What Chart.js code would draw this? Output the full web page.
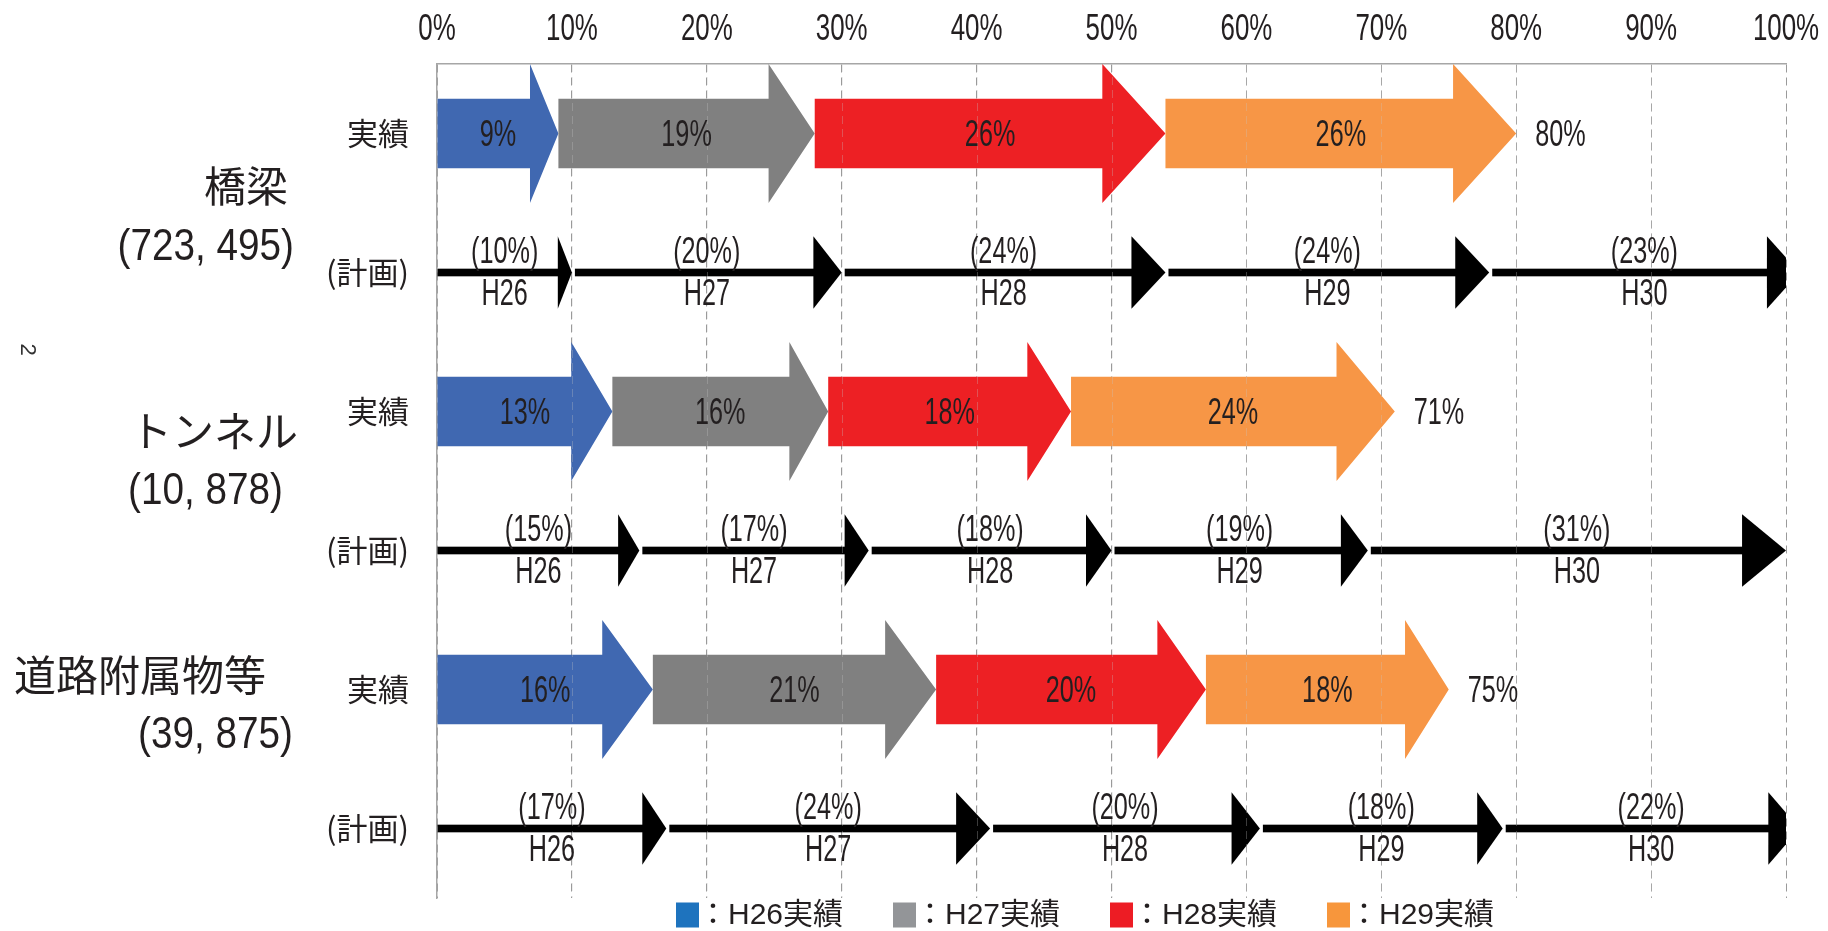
<!DOCTYPE html>
<html><head><meta charset="utf-8">
<script src="https://cdn.jsdelivr.net/npm/chart.js@4.4.1/dist/chart.umd.min.js"></script>
<style>html,body{margin:0;padding:0;background:#fff;}#wrap{width:1828px;height:931px;}</style>
</head><body><div id="wrap"><canvas id="c" width="1828" height="931"></canvas></div>
<script>
// ---------------- data ----------------
const rowLabels = ['実績', '(計画)', '実績', '(計画)', '実績', '(計画)'];
const groupNames = ['橋梁', 'トンネル', '道路附属物等'];
const groupCounts = ['(723, 495)', '(10, 878)', '(39, 875)'];
const actualSeries = ['H26実績', 'H27実績', 'H28実績', 'H29実績'];
const actualBridge = [9, 19, 26, 26];
const actualTunnel = [13, 16, 18, 24];
const actualRoad = [16, 21, 20, 18];
const actualTotals = [80, 71, 75];
const planYears = ['H26', 'H27', 'H28', 'H29', 'H30'];
const planBridge = [10, 20, 24, 24, 23];
const planTunnel = [15, 17, 18, 19, 31];
const planRoad = [17, 24, 20, 18, 22];
const xTickStep = 10;
const strayMark = '2';

// ---------------- styles ----------------
const TEXT = '#231F20';
const ACTUAL_COLORS = ['#4068B1', '#808080', '#ED2024', '#F79646'];
const LEGEND_COLORS = ['#1E73BE', '#939598', '#ED1C24', '#F7963C'];
const ACT_HEAD = [0.235, 0.18, 0.18, 0.18];
const PLAN_HEAD = 0.105;
const LATIN = '"Liberation Sans", Arial, sans-serif';
const CJK = '"Noto Sans CJK JP", sans-serif';
const SX = 0.7;
const GROUP_STYLE = [
  { nameDy: 53, nameRight: 288, subDy: 110, subRight: 294 },
  { nameDy: 20, nameRight: 298, subDy: 76, subRight: 283 },
  { nameDy: -14, nameRight: 266, subDy: 42, subRight: 293 }
];

// ---------------- build ----------------
function cumRanges(vals) { let s = 0; return vals.map(v => { const r = [s, s + v]; s += v; return r; }); }
const actualRanges = [actualBridge, actualTunnel, actualRoad].map(cumRanges);
const planRanges = [planBridge, planTunnel, planRoad].map(cumRanges);
const actualVals = [actualBridge, actualTunnel, actualRoad];
const planVals = [planBridge, planTunnel, planRoad];

const datasets = [];
actualSeries.forEach((name, i) => {
  datasets.push({
    label: name, kind: 'actual', idx: i,
    data: rowLabels.map((_, r) => r % 2 === 0 ? actualRanges[r / 2][i] : null),
    backgroundColor: ACTUAL_COLORS[i], barPercentage: 0.5, categoryPercentage: 1, grouped: false
  });
});
planYears.forEach((name, j) => {
  datasets.push({
    label: name, kind: 'plan', idx: j,
    data: rowLabels.map((_, r) => r % 2 === 1 ? planRanges[(r - 1) / 2][j] : null),
    backgroundColor: '#000', barPercentage: 0.055, categoryPercentage: 1, grouped: false
  });
});

// ---------------- text helpers ----------------
function drawMixed(ctx, text, x, y, size, align, sx) {
  const runs = [];
  for (const ch of text) {
    const cjk = ch.charCodeAt(0) > 0x2000;
    if (runs.length && runs[runs.length - 1].cjk === cjk) runs[runs.length - 1].t += ch;
    else runs.push({ t: ch, cjk });
  }
  let total = 0;
  runs.forEach(r => {
    ctx.font = size + 'px ' + (r.cjk ? CJK : LATIN);
    r.w = ctx.measureText(r.t).width * (r.cjk ? 1 : sx);
    total += r.w;
  });
  let cx = align === 'center' ? x - total / 2 : align === 'right' ? x - total : x;
  const base = y + size * 0.36;
  runs.forEach(r => {
    ctx.save();
    ctx.font = size + 'px ' + (r.cjk ? CJK : LATIN);
    ctx.textAlign = 'left'; ctx.textBaseline = 'alphabetic';
    ctx.translate(cx, base);
    if (!r.cjk) ctx.scale(sx, 1);
    ctx.fillText(r.t, 0, 0);
    ctx.restore();
    cx += r.w;
  });
}

// ---------------- plugins ----------------
// draw x tick labels condensed (like the reference's narrow gothic digits)
const narrowTicks = {
  id: 'narrowTicks',
  beforeDraw(chart) {
    const sc = chart.scales.x;
    if (!sc || sc.__narrow) return;
    const orig = sc.drawLabels;
    sc.drawLabels = function (area) {
      const ctx = this.ctx, rot = ctx.rotate;
      ctx.rotate = function (a) { rot.call(this, a); this.scale(SX, 1); };
      try { orig.call(this, area); } finally { ctx.rotate = rot; }
    };
    sc.__narrow = true;
  }
};

const arrowPlugin = {
  id: 'arrows',
  beforeDatasetDraw() { return false; },
  afterDatasetsDraw(chart) {
    const ctx = chart.ctx, ca = chart.chartArea, ys = chart.scales.y, xs = chart.scales.x;
    const rowH = ys.getPixelForValue(1) - ys.getPixelForValue(0);
    const labels = [];
    ctx.save();
    ctx.beginPath(); ctx.rect(ca.left, ca.top, ca.right - ca.left, ca.bottom - ca.top); ctx.clip();
    chart.data.datasets.forEach((ds, di) => {
      const meta = chart.getDatasetMeta(di);
      meta.data.forEach((el, r) => {
        if (ds.data[r] == null) return;
        const x0 = Math.min(el.x, el.base), x1 = Math.max(el.x, el.base), y = el.y;
        const g = Math.floor(r / 2);
        if (ds.kind === 'actual') {
          const L = (x1 - x0) * ACT_HEAD[ds.idx], H = rowH / 2, bh = el.height / 2;
          ctx.fillStyle = ds.backgroundColor;
          ctx.beginPath();
          ctx.moveTo(x0, y - bh); ctx.lineTo(x1 - L, y - bh); ctx.lineTo(x1 - L, y - H);
          ctx.lineTo(x1, y); ctx.lineTo(x1 - L, y + H); ctx.lineTo(x1 - L, y + bh);
          ctx.lineTo(x0, y + bh); ctx.closePath(); ctx.fill();
          labels.push({ t: actualVals[g][ds.idx] + '%', x: (x0 + x1) / 2, y, a: 'center' });
          if (ds.idx === actualSeries.length - 1) labels.push({ t: actualTotals[g] + '%', x: x1 + 19, y, a: 'left' });
        } else {
          const L = (x1 - x0) * PLAN_HEAD, hh = rowH * 0.26, bh = el.height / 2;
          const xs0 = ds.idx > 0 ? x0 + 3 : x0;
          ctx.fillStyle = '#000';
          ctx.fillRect(xs0, y - bh, (x1 - L) - xs0 + 1, bh * 2);
          ctx.beginPath();
          ctx.moveTo(x1 - L, y - hh); ctx.lineTo(x1, y); ctx.lineTo(x1 - L, y + hh); ctx.closePath(); ctx.fill();
          labels.push({ t: '(' + planVals[g][ds.idx] + '%)', x: (x0 + x1) / 2, y: y - 22, a: 'center' });
          labels.push({ t: planYears[ds.idx], x: (x0 + x1) / 2, y: y + 20, a: 'center' });
        }
      });
    });
    // faint grid overlay
    ctx.strokeStyle = 'rgba(200,200,200,0.3)'; ctx.lineWidth = 1; ctx.setLineDash([8, 5]);
    xs.ticks.forEach(t => {
      if (t.value === 0) return;
      const px = Math.round(xs.getPixelForValue(t.value)) + 0.5;
      ctx.beginPath(); ctx.moveTo(px, ca.top); ctx.lineTo(px, ca.bottom); ctx.stroke();
    });
    ctx.restore();

    ctx.save();
    ctx.fillStyle = TEXT;
    labels.forEach(l => drawMixed(ctx, l.t, l.x, l.y, 36, l.a, SX));
    // group labels
    groupNames.forEach((n, g) => {
      const yRow = ys.getPixelForValue(g * 2);
      const st = GROUP_STYLE[g];
      drawMixed(ctx, n, st.nameRight, yRow + st.nameDy, 42, 'right', SX);
      drawMixed(ctx, groupCounts[g], st.subRight, yRow + st.subDy, 45, 'right', 0.86);
    });
    // stray mark
    ctx.save();
    ctx.translate(27, ys.getPixelForValue(2) - 62);
    ctx.rotate(Math.PI / 2);
    ctx.font = '22px ' + LATIN; ctx.textAlign = 'center'; ctx.textBaseline = 'middle';
    ctx.fillStyle = '#333';
    ctx.fillText(strayMark, 0, 0);
    ctx.restore();
    // legend
    const lx0 = ca.left + 239, step = 217, ly = ca.bottom + 17;
    actualSeries.forEach((s, i) => {
      const x = lx0 + i * step;
      ctx.fillStyle = LEGEND_COLORS[i];
      ctx.fillRect(x, ly - 12.5, 23, 25);
      ctx.fillStyle = TEXT;
      ctx.font = '30px "Liberation Sans", "Noto Sans CJK JP", sans-serif';
      ctx.textAlign = 'left'; ctx.textBaseline = 'middle';
      ctx.fillText('：' + s, x + 22, ly + 1);
    });
    ctx.restore();
  }
};

new Chart(document.getElementById('c'), {
  type: 'bar',
  data: { labels: rowLabels, datasets },
  options: {
    indexAxis: 'y', responsive: false, animation: false, devicePixelRatio: 1,
    layout: { padding: { left: 0, top: 0, right: 42, bottom: 33 } },
    plugins: { legend: { display: false }, tooltip: { enabled: false } },
    scales: {
      x: {
        type: 'linear', position: 'top', min: 0, max: 100,
        ticks: { stepSize: xTickStep, callback: v => v + '%', padding: 12, color: TEXT, maxRotation: 0, autoSkip: false,
          font: { family: '"Liberation Sans", sans-serif', size: 37 } },
        grid: { color: '#9a9a9a', lineWidth: 1, drawTicks: false },
        border: { display: true, color: '#a6a6a6', width: 1.5, dash: [8, 5] },
        afterFit(s) { s.height = 64; s.paddingLeft = 0; s.paddingRight = 0; }
      },
      y: {
        type: 'category', offset: true,
        grid: { display: false, drawTicks: false },
        border: { display: true, color: '#a6a6a6', width: 1.5 },
        ticks: { padding: 28, color: TEXT, font: { family: '"Noto Sans CJK JP", sans-serif', size: 31 } },
        afterFit(s) { s.width = 437; s.paddingTop = 0; s.paddingBottom = 0; }
      }
    }
  },
  plugins: [narrowTicks, arrowPlugin]
});
</script></body></html>
